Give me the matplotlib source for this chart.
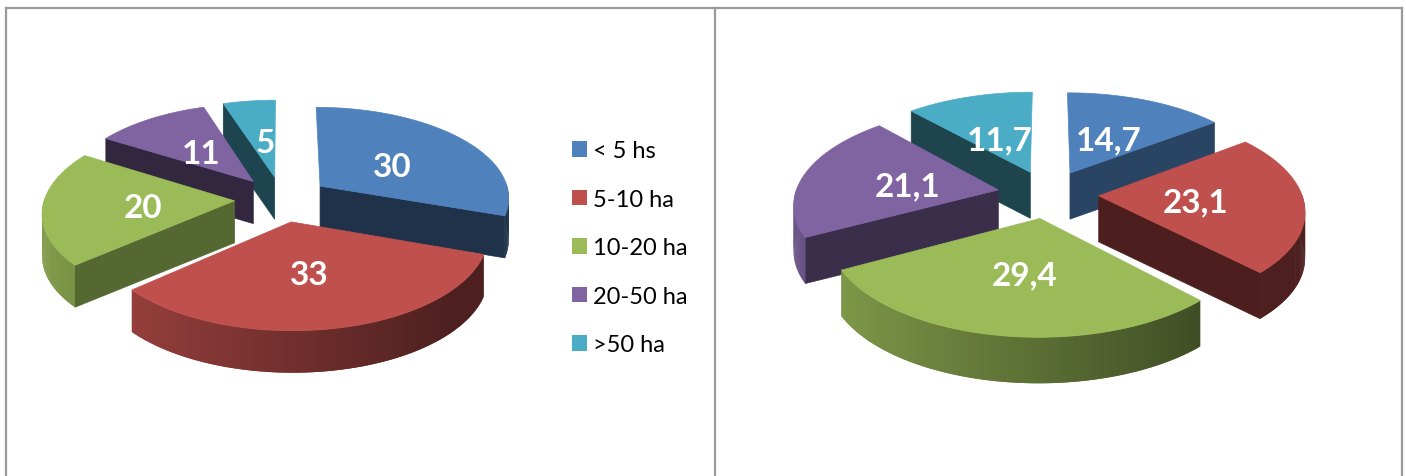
# -*- coding: utf-8 -*-
import numpy as np
import matplotlib
matplotlib.use('Agg')
import matplotlib.pyplot as plt
from matplotlib.patches import Patch, Polygon
from matplotlib.collections import PolyCollection

# data
categories = ['< 5 hs', '5-10 ha', '10-20 ha', '20-50 ha', '>50 ha']
values_left = [30, 33, 20, 11, 5]
values_right = [14.7, 23.1, 29.4, 21.1, 11.7]
labels_left = ['30', '33', '20', '11', '5']
labels_right = ['14,7', '23,1', '29,4', '21,1', '11,7']

colors = ['#4f81bd', '#c0504d', '#9bbb59', '#8064a2', '#4bacc6']
plt.rcParams['font.family'] = ['Lato', 'DejaVu Sans']


def darker(col, f):
    return np.array(matplotlib.colors.to_rgb(col)) * f


def draw_pie(ax, vals, texts, text_pos, cx, cy, R, a, k, h, e=0.25):
    total = float(sum(vals))
    edges = np.concatenate([[0], np.cumsum(vals)]) / total * 2 * np.pi

    def proj(X, Y, z=0.0):
        s = 1 / (1 + k * Y)
        return cx + R * X * s, cy - a * Y * s + h * z

    mids = (edges[:-1] + edges[1:]) / 2
    # back slices first
    for i in np.argsort(-np.cos(mids)):
        t0, t1, m = edges[i], edges[i + 1], mids[i]
        ox, oy = e * np.sin(m), e * np.cos(m)
        th = np.linspace(t0, t1, 160)
        X, Y = ox + np.sin(th), oy + np.cos(th)
        c = colors[i]

        # flat cut faces
        for t, sign in ((t0, -1), (t1, 1)):
            nrm = np.degrees(t + sign * np.pi / 2) % 360
            if 90 < nrm < 270:
                f = np.interp(nrm, [130, 143, 155, 200, 270], [0.62, 0.53, 0.44, 0.39, 0.40])
                ex, ey = ox + np.sin(t), oy + np.cos(t)
                pts = [proj(ox, oy), proj(ex, ey), proj(ex, ey, 1), proj(ox, oy, 1)]
                ax.add_patch(Polygon(pts, closed=True, fc=darker(c, f), ec=darker(c, f), lw=0.5))

        # curved wall, shaded left to right, each quad runs under the next so no seams show
        quads, cols = [], []
        for j in range(len(th) - 1):
            if np.cos((th[j] + th[j + 1]) / 2) > 0.03:
                continue
            j2 = min(j + 2, len(th) - 1)
            p0, p1 = proj(X[j], Y[j]), proj(X[j2], Y[j2])
            p2, p3 = proj(X[j2], Y[j2], 1), proj(X[j], Y[j], 1)
            quads.append([p0, p1, p2, p3])
            t = np.clip((np.sin((th[j] + th[j + 1]) / 2) + 1) / 1.75, 0, 1)
            cols.append(darker(c, 0.84 - 0.44 * t))
        if quads:
            ax.add_collection(PolyCollection(quads, facecolors=cols, edgecolors='none', linewidths=0))

        # top face
        top = [proj(ox, oy)] + [proj(x, y) for x, y in zip(X, Y)]
        ax.add_patch(Polygon(top, closed=True, fc=c, ec=c, lw=0.5))

    for txt, (px, py) in zip(texts, text_pos):
        ax.text(px, py, txt, color='white', fontsize=24, fontweight='bold',
                ha='center', va='center', zorder=10)


fig = plt.figure(figsize=(14.06, 4.77), dpi=100)
ax = fig.add_axes([0, 0, 1, 1])
ax.set_xlim(0, 1406)
ax.set_ylim(477, 0)
ax.axis('off')

# frame of the two panels
for xs, ys in (([6, 6], [477, 8.5]), ([6, 1401.5], [8.5, 8.5]),
               ([715, 715], [8.5, 477]), ([1401.5, 1401.5], [8.5, 477])):
    ax.plot(xs, ys, color='#9a9a9a', lw=1.6, solid_capstyle='projecting')

draw_pie(ax, values_left, labels_left,
         [(392, 168), (309, 276), (143, 209), (201, 155), (265, 144)],
         282, 200, 190, 90.6, 0.115, 42)
draw_pie(ax, values_right, labels_right,
         [(1109, 141), (1196, 203), (1025, 276), (908, 187), (1000, 141)],
         1048, 195, 203, 96, 0.132, 46)

handles = [Patch(fc=c, lw=0, label=n) for c, n in zip(colors, categories)]
ax.legend(handles=handles, loc='upper left', bbox_to_anchor=(572 / 1406, 1 - 141.5 / 477),
          bbox_transform=ax.transAxes, frameon=False, fontsize=17, borderpad=0, borderaxespad=0,
          handlelength=0.64, handleheight=0.64, handletextpad=0.25, labelspacing=1.16)

fig.savefig('out.png', dpi=100)
